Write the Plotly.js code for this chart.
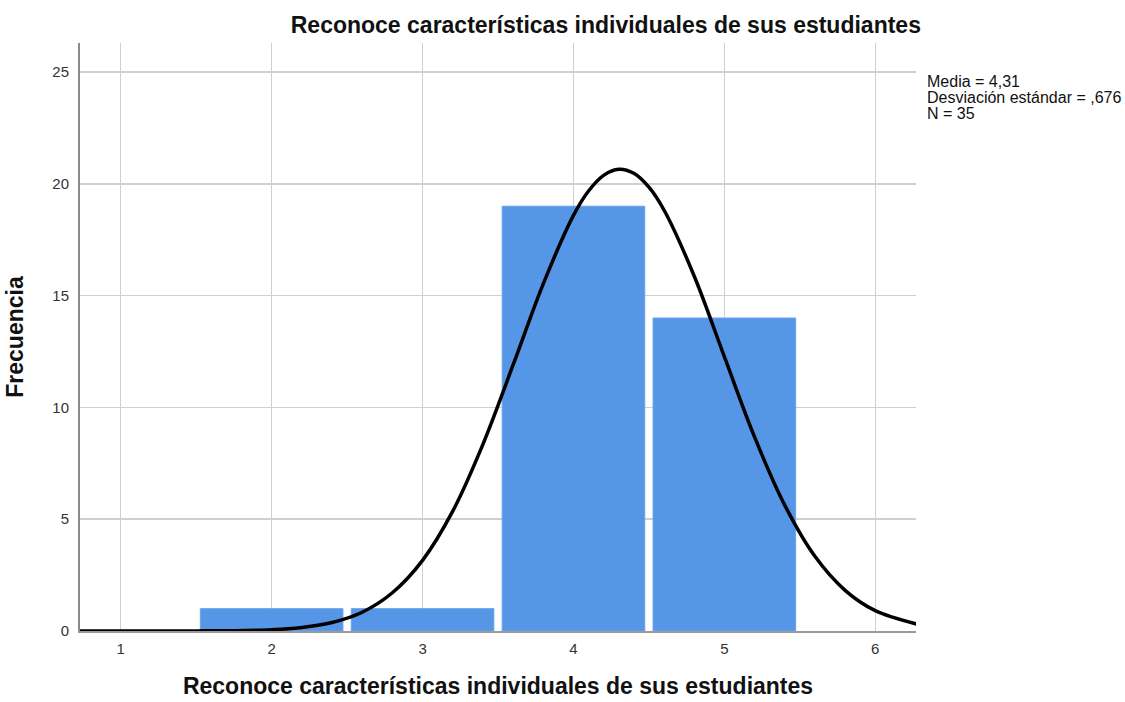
<!DOCTYPE html>
<html>
<head>
<meta charset="utf-8">
<script src="https://cdn.plot.ly/plotly-3.0.1.min.js"></script>
<style>html,body{margin:0;padding:0;background:#fff;}#chart{width:1125px;height:702px;}</style>
</head>
<body>
<div id="chart"></div>
<script>
// Histogram bins (category values) and frequencies
const categories = [2, 3, 4, 5];
const frequencies = [1, 1, 19, 14];

// Normal curve points (x, frequency)
const curveX = [0.7, 1.0, 1.5, 2.0, 2.2, 2.4, 2.6, 2.8, 3.0, 3.2, 3.4, 3.6, 3.8, 4.0, 4.1, 4.2, 4.3, 4.4, 4.5, 4.6, 4.8, 5.0, 5.2, 5.4, 5.6, 5.8, 6.0, 6.3];
const curveY = [0.0, 0.0001, 0.004, 0.06, 0.16, 0.38, 0.84, 1.71, 3.16, 5.36, 8.35, 11.90, 15.53, 18.59, 19.68, 20.38, 20.65, 20.47, 19.85, 18.83, 15.88, 12.27, 8.68, 5.63, 3.34, 1.82, 0.91, 0.27];

const xTicks = [1, 2, 3, 4, 5, 6];
const yTicks = [0, 5, 10, 15, 20, 25];
const titleText = "Reconoce características individuales de sus estudiantes";
const statsLines = ["Media = 4,31", "Desviación estándar = ,676", "N = 35"];

const font = "Liberation Sans, Arial, sans-serif";
const statsY = [0.9337, 0.9065, 0.8793];

const traces = [
  {
    type: "bar",
    x: categories,
    y: frequencies,
    width: 0.945,
    marker: { color: "#5596e6", line: { color: "#6aa3ea", width: 1 } },
    hoverinfo: "x+y",
    showlegend: false
  },
  {
    type: "scatter",
    mode: "lines",
    x: curveX,
    y: curveY,
    line: { color: "#000000", width: 3.5, shape: "spline", smoothing: 1 },
    hoverinfo: "skip",
    showlegend: false
  }
];

const layout = {
  width: 1125,
  height: 702,
  margin: { l: 80, r: 209, t: 43, b: 71 },
  paper_bgcolor: "#ffffff",
  plot_bgcolor: "#ffffff",
  font: { family: font, color: "#222", size: 15 },
  title: {
    text: "<b>" + titleText + "</b>",
    font: { family: font, size: 23, color: "#111" },
    xref: "paper", x: 0.629, xanchor: "center",
    yref: "container", y: 0.964, yanchor: "middle"
  },
  xaxis: {
    range: [0.73, 6.27],
    tickvals: xTicks,
    ticktext: xTicks.map(String),
    ticks: "",
    showgrid: true,
    gridcolor: "#cfcfcf",
    gridwidth: 1.5,
    zeroline: false,
    showline: true,
    linecolor: "#9a9a9a",
    linewidth: 1.5,
    tickfont: { family: font, size: 15, color: "#333" },
    ticklabelstandoff: 3,
    title: { text: "<b>" + titleText + "</b>", font: { family: font, size: 23, color: "#111" }, standoff: 22 }
  },
  yaxis: {
    range: [0, 26.3],
    tickvals: yTicks,
    ticktext: yTicks.map(String),
    ticks: "",
    showgrid: true,
    gridcolor: "#cfcfcf",
    gridwidth: 1.5,
    zeroline: false,
    showline: true,
    linecolor: "#8a8a8a",
    linewidth: 2,
    tickfont: { family: font, size: 15, color: "#333" },
    ticklabelstandoff: 6,
    title: { text: "<b>Frecuencia</b>", font: { family: font, size: 23, color: "#111" }, standoff: 22 }
  },
  annotations: statsLines.map((t, i) => ({
    xref: "paper", yref: "paper",
    x: 1.011, y: statsY[i],
    xanchor: "left", yanchor: "middle",
    align: "left",
    showarrow: false,
    text: t,
    font: { family: font, size: 16, color: "#111" }
  }))
};

Plotly.newPlot("chart", traces, layout, { displayModeBar: false, staticPlot: true });
</script>
</body>
</html>
